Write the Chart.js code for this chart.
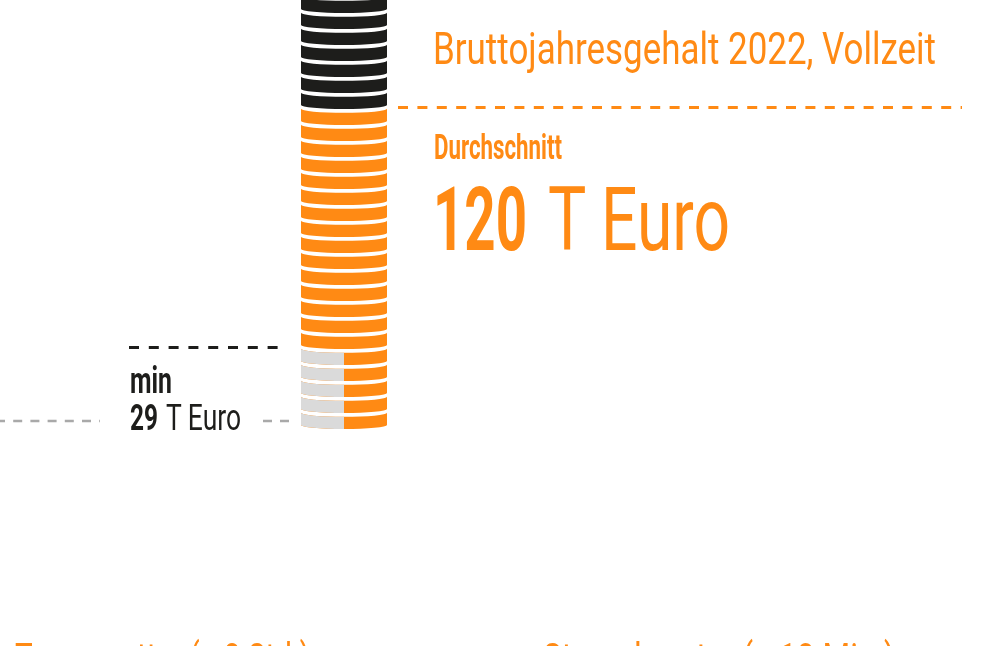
<!DOCTYPE html>
<html>
<head>
<meta charset="utf-8">
<script src="https://cdn.jsdelivr.net/npm/chart.js@4.4.1/dist/chart.umd.min.js"></script>
<style>
  html, body { margin: 0; padding: 0; width: 991px; height: 646px; overflow: hidden; background: #ffffff; }
  #wrap { position: relative; width: 991px; height: 646px; overflow: hidden; }
  #c { position: absolute; left: 0; top: 0; }
  .t { position: absolute; white-space: nowrap; line-height: 1; font-family: Roboto, 'Noto Sans', sans-serif; transform-origin: 0 0; }
  .mk { display: inline-block; width: 0; height: 0; vertical-align: baseline; }
</style>
</head>
<body>
<div id="wrap"><canvas id="c" width="991" height="646"></canvas></div>
<script>
// ---------------- data ----------------
const coinValue   = 6;      // T Euro represented by one coin
const avgSalary   = 120;    // Durchschnitt, T Euro
const minSalary   = 29;     // min, T Euro
// coin mid-values (T Euro) of each coin in the stack
const greyCoins   = [3, 9, 15, 21, 27];
const orangeCoins = [33, 39, 45, 51, 57, 63, 69, 75, 81, 87, 93, 99, 105, 111, 117];
const blackCoins  = [123, 129, 135, 141, 147, 153, 159];
// texts
const titleText     = 'Bruttojahresgehalt 2022, Vollzeit';
const avgLabel      = 'Durchschnitt';
const minLabel      = 'min';
const unitLabel     = 'T Euro';
const compareLabels = ['Tagesmutter (ø 3 Std.)', 'Steuerberater (ø 10 Min.)'];

// ---------------- styles ----------------
const ORANGE = '#ff8a14';
const BLACK  = '#1d1d1b';
const GREY   = '#dadada';
const GREYLINE = '#a9a9a9';

function makeCoin(leftColor, rightColor) {
  const c = document.createElement('canvas');
  c.width = 88; c.height = 18;
  const g = c.getContext('2d');
  const cx = 44, rx = 43, ry = 4, y0 = 0.8, th = 12.2;
  g.beginPath();
  g.ellipse(cx, y0, rx, ry, 0, 0, Math.PI);
  g.lineTo(cx - rx, y0 + th);
  g.ellipse(cx, y0 + th, rx, ry, 0, Math.PI, 0, true);
  g.closePath();
  g.fillStyle = rightColor;
  g.fill();
  if (leftColor !== rightColor) {
    g.save(); g.clip();
    g.fillStyle = leftColor;
    g.fillRect(0, 0, cx, c.height);
    g.restore();
  }
  return c;
}
const halfCoin   = makeCoin(GREY, ORANGE);
const orangeCoin = makeCoin(ORANGE, ORANGE);
const blackCoin  = makeCoin(BLACK, BLACK);

function drawDash(ctx, x1, x2, y, color, dash, w) {
  ctx.save();
  ctx.strokeStyle = color;
  ctx.lineWidth = w;
  ctx.setLineDash(dash);
  ctx.beginPath();
  ctx.moveTo(x1, y);
  ctx.lineTo(x2, y);
  ctx.stroke();
  ctx.restore();
}

const refLines = {
  id: 'refLines',
  afterDatasetsDraw(chart) {
    const ctx = chart.ctx;
    const ys = chart.scales.y;
    const minTop = greyCoins[greyCoins.length - 1] + coinValue / 2;
    drawDash(ctx, 398, 962, ys.getPixelForValue(avgSalary) - 1.5, ORANGE, [10, 9.4], 3);
    drawDash(ctx, 129, 278, ys.getPixelForValue(minTop) - 1.5, BLACK, [10, 9.8], 3);
    const gy = ys.getPixelForValue(greyCoins[0]);
    drawDash(ctx, -4, 100, gy, GREYLINE, [9, 8.2], 2.5);
    drawDash(ctx, 263, 297, gy, GREYLINE, [9, 8], 2.5);
  }
};

const pts = arr => arr.map(v => ({ x: 0, y: v }));
const common = { pointRadius: 5, pointHoverRadius: 5, showLine: false };

new Chart(document.getElementById('c'), {
  type: 'scatter',
  data: {
    datasets: [
      Object.assign({ label: minLabel, data: pts(greyCoins), pointStyle: halfCoin }, common),
      Object.assign({ label: avgLabel, data: pts(orangeCoins), pointStyle: orangeCoin }, common),
      Object.assign({ label: 'max', data: pts(blackCoins), pointStyle: blackCoin }, common)
    ]
  },
  options: {
    responsive: false,
    animation: false,
    events: [],
    layout: { autoPadding: false, padding: { left: 0, right: 303, top: 0, bottom: 217 } },
    scales: {
      x: { type: 'linear', min: -1, max: 1, display: false },
      y: { type: 'linear', min: 0, max: 160.875, display: false }
    },
    plugins: { legend: { display: false }, tooltip: { enabled: false } }
  },
  plugins: [refLines]
});

// ---------------- text ----------------
const CAP = 0.711;
const pieces = [
  { text: titleText, left: 433, base: 64, cap: 31, w: 503, bold: false, color: ORANGE },
  { text: avgLabel, left: 434, base: 159, cap: 25, w: 128, bold: true, color: ORANGE },
  { text: String(avgSalary), left: 433, base: 250, cap: 63, w: 94, bold: true, color: ORANGE },
  { text: unitLabel, left: 548, base: 250, cap: 63, w: 182, bold: false, color: ORANGE },
  { text: minLabel, left: 130, base: 393, cap: 26, w: 42, bold: true, color: BLACK },
  { text: String(minSalary), left: 130, base: 430, cap: 26, w: 28, bold: true, color: BLACK },
  { text: unitLabel, left: 166, base: 430, cap: 26, w: 75, bold: false, color: BLACK },
  { text: compareLabels[0], left: 15, base: 673, cap: 30, w: 295, bold: false, color: ORANGE },
  { text: compareLabels[1], left: 543, base: 673, cap: 30, w: 352, bold: false, color: ORANGE }
];
const wrap = document.getElementById('wrap');
function layoutText() {
  pieces.forEach(p => {
    const d = document.createElement('div');
    d.className = 't';
    const size = p.cap / CAP;
    d.style.fontSize = size.toFixed(2) + 'px';
    d.style.fontWeight = p.bold ? '700' : '400';
    d.style.color = p.color;
    d.style.left = p.left + 'px';
    d.style.top = '0px';
    d.appendChild(document.createTextNode(p.text));
    const mk = document.createElement('span');
    mk.className = 'mk';
    d.appendChild(mk);
    wrap.appendChild(d);
    const r = d.getBoundingClientRect();
    const baseOff = mk.getBoundingClientRect().top - r.top;
    d.style.top = (p.base - baseOff).toFixed(1) + 'px';
    d.style.transform = 'scaleX(' + (p.w / r.width).toFixed(4) + ')';
  });
}
if (document.fonts && document.fonts.ready) { document.fonts.ready.then(layoutText); } else { layoutText(); }
</script>
</body>
</html>
